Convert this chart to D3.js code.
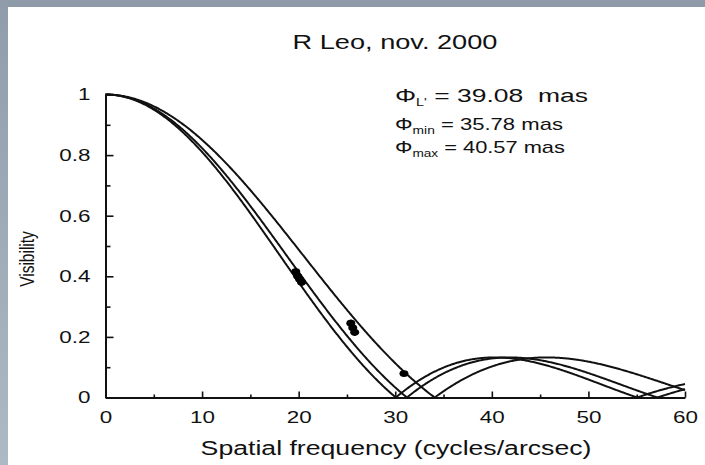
<!DOCTYPE html>
<html>
<head>
<meta charset="utf-8">
<script src="https://cdn.jsdelivr.net/npm/d3@7"></script>
<style>
  html, body { margin: 0; padding: 0; background: #fff; }
  svg { display: block; }
  text { font-family: "Liberation Sans", Arial, Helvetica, sans-serif; fill: #111; }
</style>
</head>
<body>
<svg id="chart" width="705" height="465"></svg>
<script>
// Uniform-disk diameters (mas) fitted to the L' observations
const diameterLabels = ["L'", "min", "max"];
const diameters = [39.08, 35.78, 40.57];

// Measured visibilities
const obsFreq = [19.7, 19.9, 20.1, 20.3, 25.4, 25.6, 25.8, 30.9];
const obsVis  = [0.415, 0.40, 0.39, 0.38, 0.245, 0.23, 0.215, 0.079];
const obsErr  = [0.012, 0.012, 0.012, 0.012, 0.012, 0.012, 0.012, 0.004];

// Axis ticks
const xMajorTicks = [0, 10, 20, 30, 40, 50, 60];
const xMinorTicks = [5, 15, 25, 35, 45, 55];
const yMajorTicks = [0, 0.2, 0.4, 0.6, 0.8, 1];
const yMinorTicks = [0.1, 0.3, 0.5, 0.7, 0.9];

const STRETCH = 1.32; // horizontal widening of all lettering

const svg = d3.select("#chart");

// slide frame
const defs = svg.append("defs");
const grad = defs.append("linearGradient").attr("id", "frameGrad")
  .attr("x1", 0).attr("y1", 0).attr("x2", 0).attr("y2", 1);
grad.append("stop").attr("offset", "0%").attr("stop-color", "#909caa");
grad.append("stop").attr("offset", "100%").attr("stop-color", "#abbac5");
svg.append("rect").attr("x", 0).attr("y", 0).attr("width", 705).attr("height", 7).attr("fill", "#8f9ba8");
svg.append("rect").attr("x", 0).attr("y", 0).attr("width", 8).attr("height", 465).attr("fill", "url(#frameGrad)");

const x = d3.scaleLinear().domain([0, 60]).range([105.5, 685]);
const y = d3.scaleLinear().domain([0, 1]).range([397.5, 94.5]);

// Bessel function of the first kind, order 1 (power series)
function besselJ1(z) {
  let term = z / 2, sum = term;
  const q = -(z * z) / 4;
  for (let k = 1; k < 40; k++) {
    term *= q / (k * (k + 1));
    sum += term;
  }
  return sum;
}
// Uniform disk visibility; diameter in mas, frequency in cycles/arcsec
function udVisibility(diamMas, freq) {
  const z = Math.PI * diamMas * 1e-3 * freq;
  if (z === 0) return 1;
  return Math.abs(2 * besselJ1(z) / z);
}

const freqGrid = d3.range(0, 60.0001, 0.1);
const line = d3.line().x(d => x(d[0])).y(d => y(d[1]));

const plot = svg.append("g");
diameters.forEach(dm => {
  plot.append("path")
    .datum(freqGrid.map(f => [f, udVisibility(dm, f)]))
    .attr("d", line)
    .attr("fill", "none")
    .attr("stroke", "#111")
    .attr("stroke-width", 2);
});

// observations
const obs = obsFreq.map((f, i) => ({ f, v: obsVis[i], e: obsErr[i] }));
plot.selectAll("line.err").data(obs).enter().append("line")
  .attr("x1", d => x(d.f)).attr("x2", d => x(d.f))
  .attr("y1", d => y(d.v - d.e)).attr("y2", d => y(d.v + d.e))
  .attr("stroke", "#000").attr("stroke-width", 2);
plot.selectAll("ellipse.obs").data(obs).enter().append("ellipse")
  .attr("cx", d => x(d.f)).attr("cy", d => y(d.v)).attr("rx", 4.5).attr("ry", 3.4)
  .attr("fill", "#000");

// widen a text element horizontally around its anchor point
function widen(sel, s) {
  sel.each(function () {
    const t = d3.select(this);
    const tx = +t.attr("x") || 0, ty = +t.attr("y") || 0;
    t.attr("x", 0).attr("y", 0)
      .attr("transform", `translate(${tx},${ty}) scale(${s},1)`);
  });
}
// widen a text element so that it spans the given width
function fitWidth(sel, w) {
  const len = sel.node().getBBox().width;
  widen(sel, w / len);
}

// axes (ticks pointing inward)
const gx = svg.append("g").attr("transform", `translate(0,${y(0)})`);
gx.call(d3.axisBottom(x).tickValues(xMajorTicks).tickSizeInner(-6).tickSizeOuter(0).tickPadding(13)
  .tickFormat(d3.format("d")));
const gxm = svg.append("g").attr("transform", `translate(0,${y(0)})`);
gxm.call(d3.axisBottom(x).tickValues(xMinorTicks).tickSizeInner(-3).tickSizeOuter(0).tickFormat(""));
gxm.select(".domain").remove();

const gy = svg.append("g").attr("transform", `translate(${x(0)},0)`);
gy.call(d3.axisLeft(y).tickValues(yMajorTicks).tickSizeInner(-8).tickSizeOuter(0).tickPadding(15)
  .tickFormat(d => d === 0 || d === 1 ? d3.format("d")(d) : d3.format(".1f")(d)));
const gym = svg.append("g").attr("transform", `translate(${x(0)},0)`);
gym.call(d3.axisLeft(y).tickValues(yMinorTicks).tickSizeInner(-5).tickSizeOuter(0).tickFormat(""));
gym.select(".domain").remove();

svg.selectAll(".domain").attr("stroke", "#111").attr("stroke-width", 2);
svg.selectAll(".tick line").attr("stroke", "#111").attr("stroke-width", 1.6);
[gx, gy].forEach(g => {
  g.selectAll(".tick text").attr("font-size", 17)
    .attr("font-family", "Liberation Sans, Arial, sans-serif").attr("fill", "#111");
  widen(g.selectAll(".tick text"), STRETCH);
});

// titles
const title = svg.append("text").attr("x", 395).attr("y", 49).attr("text-anchor", "middle")
  .attr("font-size", 20.5).text("R Leo, nov. 2000");
fitWidth(title, 205);
const xTitle = svg.append("text").attr("x", 396).attr("y", 455).attr("text-anchor", "middle")
  .attr("font-size", 19.6).text("Spatial frequency (cycles/arcsec)");
fitWidth(xTitle, 391);
svg.append("text").attr("transform", `translate(34,259) scale(${STRETCH},1) rotate(-90)`)
  .attr("text-anchor", "middle").attr("font-size", 15.5).text("Visibility");

// diameter annotations
const annY = [102, 129.5, 152.5];
const annSize = [18.5, 16, 16];
const annWidth = [193, 168, 170];
diameters.forEach((dm, i) => {
  const t = svg.append("text").attr("x", 395).attr("y", annY[i]).attr("font-size", annSize[i]);
  t.append("tspan").text("\u03A6");
  t.append("tspan").attr("font-size", 10).attr("dy", 4).text(diameterLabels[i]);
  t.append("tspan").attr("dy", -4).text(" = " + dm.toFixed(2) + (i === 0 ? "\u00A0 mas" : " mas"));
  fitWidth(t, annWidth[i]);
});
</script>
</body>
</html>
